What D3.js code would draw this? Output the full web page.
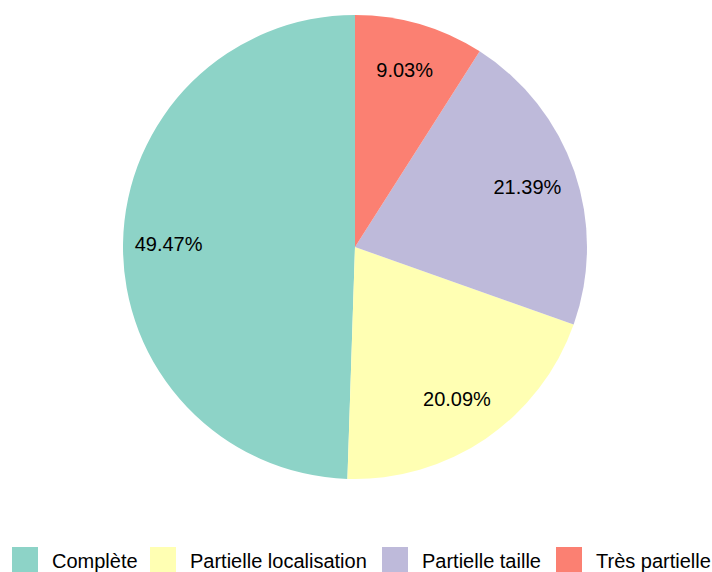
<!DOCTYPE html>
<html><head><meta charset="utf-8">
<script src="https://cdn.jsdelivr.net/npm/d3@7"></script>
<style>body{margin:0;background:#fff}svg{display:block}text{font-family:"Liberation Sans",Arial,sans-serif}</style>
</head><body>
<svg id="c" width="712" height="572"></svg>
<script>
const categories = ["Complète","Partielle localisation","Partielle taille","Très partielle"];
const values = [49.47,20.09,21.39,9.03];
const colors = ["#8DD3C7","#FFFFB3","#BEBADA","#FB8072"];

const svg = d3.select("#c");
const cx = 355, cy = 247, R = 232;
const color = d3.scaleOrdinal().domain(categories).range(colors);
const data = categories.map((c,i)=>({cat:c,val:values[i]}));
const pie = d3.pie().value(d=>d.val).sort(null).startAngle(0).endAngle(-2*Math.PI);
const arcs = pie(data);
const arc = d3.arc().innerRadius(0).outerRadius(R);
const labelArc = d3.arc().innerRadius(R*0.795).outerRadius(R*0.795);
const g = svg.append("g").attr("transform",`translate(${cx},${cy})`);
g.selectAll("path").data(arcs).join("path").attr("d",arc).attr("fill",d=>color(d.data.cat));
g.selectAll("text").data(arcs).join("text")
 .attr("transform",d=>{const p=labelArc.centroid(d);return `translate(${p[0]-2},${p[1]})`;})
 .attr("text-anchor","middle").attr("dy","0.35em").attr("font-size",20).attr("fill","#000")
 .text(d=>d.data.val.toFixed(2)+"%");

const legX = [12,150,382,556];
const lg = svg.append("g");
categories.forEach((c,i)=>{
  lg.append("rect").attr("x",legX[i]).attr("y",547).attr("width",26).attr("height",26).attr("fill",color(c));
  lg.append("text").attr("x",legX[i]+40).attr("y",568).attr("font-size",20).attr("fill","#000").text(c);
});
</script>
</body></html>
